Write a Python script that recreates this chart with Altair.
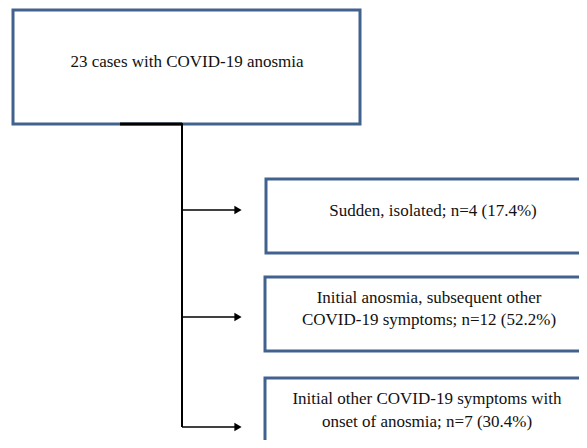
import altair as alt
import pandas as pd

# ---- content ----
box_labels = [
    ["23 cases with COVID-19 anosmia"],
    ["Sudden, isolated; n=4 (17.4%)"],
    ["Initial anosmia, subsequent other", "COVID-19 symptoms; n=12 (52.2%)"],
    ["Initial other COVID-19 symptoms with", "onset of anosmia; n=7 (30.4%)"],
]

# ---- layout (screen pixel coordinates of the diagram) ----
box_x0 = [13, 266, 265, 265]
box_x1 = [360, 600, 600, 600]
box_y0 = [10, 179, 277, 378]
box_y1 = [124, 253, 351, 470]
text_cx = [187, 433, 429, 427]
text_cy = [[62], [211], [298, 320], [399, 422]]

arrow_y = [210, 317, 427]
trunk_x = 182
arrow_x_end = 243

W, H = 571, 432
X0, Y0 = 8, 8

boxes = pd.DataFrame({"x0": box_x0, "x1": box_x1, "y0": box_y0, "y1": box_y1})
texts = pd.DataFrame(
    [
        {"x": text_cx[i], "y": text_cy[i][j], "t": line}
        for i, lines in enumerate(box_labels)
        for j, line in enumerate(lines)
    ]
)
segs = pd.DataFrame(
    [{"x0": 120, "x1": trunk_x, "y0": 124, "y1": 124, "w": 3},
     {"x0": trunk_x, "x1": trunk_x, "y0": 123, "y1": arrow_y[-1], "w": 2}]
    + [{"x0": trunk_x, "x1": arrow_x_end - 7, "y0": ay, "y1": ay, "w": 1.5} for ay in arrow_y]
)
heads = pd.DataFrame({"x": [arrow_x_end - 5] * len(arrow_y), "y": arrow_y})

xs = alt.Scale(domain=[X0, X0 + W], nice=False, zero=False)
ys = alt.Scale(domain=[Y0, Y0 + H], nice=False, zero=False, reverse=True)

rects = alt.Chart(boxes).mark_rect(
    fill="white", stroke="#41628f", strokeWidth=3, clip=True
).encode(
    x=alt.X("x0:Q", scale=xs, axis=None), x2="x1:Q",
    y=alt.Y("y0:Q", scale=ys, axis=None), y2="y1:Q",
)

lines = alt.Chart(segs).mark_rule(color="black", clip=True).encode(
    x=alt.X("x0:Q", scale=xs, axis=None), x2="x1:Q",
    y=alt.Y("y0:Q", scale=ys, axis=None), y2="y1:Q",
    strokeWidth=alt.StrokeWidth("w:Q", scale=None, legend=None),
)

arrowheads = alt.Chart(heads).mark_point(
    shape="triangle-right", filled=True, color="black", size=70, opacity=1, clip=True
).encode(
    x=alt.X("x:Q", scale=xs, axis=None),
    y=alt.Y("y:Q", scale=ys, axis=None),
)

labels = alt.Chart(texts).mark_text(
    font="Liberation Serif", fontSize=17, color="#111111",
    align="center", baseline="middle"
).encode(
    x=alt.X("x:Q", scale=xs, axis=None),
    y=alt.Y("y:Q", scale=ys, axis=None),
    text="t:N",
)

chart = (
    alt.layer(rects, lines, arrowheads, labels)
    .properties(width=W, height=H, autosize=alt.AutoSizeParams(type="none"), padding=0,
                view=alt.ViewBackground(stroke="transparent", strokeWidth=0))
    .configure_view(strokeWidth=0, stroke="transparent")
)

chart.save("out.html", embed_options={"renderer": "svg", "actions": False})
